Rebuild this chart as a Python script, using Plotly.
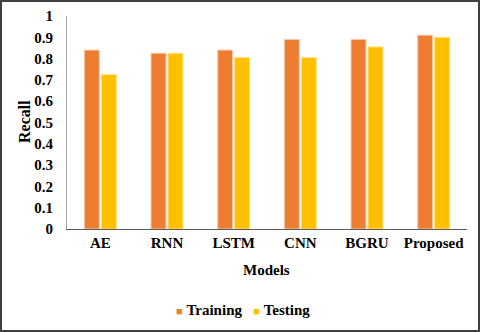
import plotly.graph_objs as go

models = ['AE', 'RNN', 'LSTM', 'CNN', 'BGRU', 'Proposed']
training = [0.84, 0.825, 0.84, 0.89, 0.89, 0.91]
testing = [0.725, 0.825, 0.805, 0.805, 0.855, 0.90]

FONT = 'Liberation Serif'
ORANGE, YELLOW = '#ED7D31', '#FFC000'

W, H = 480, 332
L, R, T, B = 67, 13, 16, 103
pw, ph = W - L - R, H - T - B


def px_to_paper(x, y):
    return (x - L) / pw, (H - B - y) / ph


traces = [
    go.Bar(x=models, y=training, name='Training',
           marker=dict(color=ORANGE, line=dict(color='#F8C9A8', width=1))),
    go.Bar(x=models, y=testing, name='Testing',
           marker=dict(color=YELLOW, line=dict(color='#FFE28A', width=1))),
]

x0, y1 = px_to_paper(1, 1)
x1, y0 = px_to_paper(479, 331)
lx, ly = px_to_paper(243, 310)
tx, ty = px_to_paper(266, 270)
rx, ry = px_to_paper(25, 122)

legend_text = ('<span style="color:%s;font-size:11px">■</span> <b>Training</b>'
               '   <span style="color:%s;font-size:11px">■</span> <b>Testing</b>') % (ORANGE, YELLOW)

layout = go.Layout(
    width=W, height=H, margin=dict(l=L, r=R, t=T, b=B, autoexpand=False),
    paper_bgcolor='white', plot_bgcolor='white',
    barmode='group', bargap=0.49, bargroupgap=0.12,
    font=dict(family=FONT, color='black'),
    showlegend=False,
    xaxis=dict(tickfont=dict(size=15, family=FONT), showline=True, linecolor='#595959',
               linewidth=1, ticks='', showgrid=False, automargin=False,
               tickvals=models, ticktext=['<b>%s</b>' % m for m in models]),
    yaxis=dict(range=[0, 1], tickfont=dict(size=15, family=FONT),
               tickvals=[i / 10 for i in range(11)],
               ticktext=['<b>%g</b>' % (i / 10) for i in range(11)],
               showline=True, linecolor='#a6a6a6', linewidth=1, showgrid=False,
               ticks='', zeroline=False, ticklabelstandoff=10, automargin=False),
    annotations=[
        dict(text='<b>Models</b>', x=tx, y=ty, xref='paper', yref='paper', showarrow=False,
             font=dict(size=15, family=FONT), xanchor='center', yanchor='middle'),
        dict(text='<b>Recall</b>', x=rx, y=ry, xref='paper', yref='paper', showarrow=False,
             font=dict(size=16, family=FONT), xanchor='center', yanchor='middle', textangle=-90),
        dict(text=legend_text, x=lx, y=ly, xref='paper', yref='paper', showarrow=False,
             font=dict(size=15, family=FONT), xanchor='center', yanchor='middle'),
    ],
    shapes=[dict(type='rect', xref='paper', yref='paper', x0=x0, x1=x1, y0=y0, y1=y1,
                 line=dict(color='#404040', width=2))],
)

fig = go.Figure(data=traces, layout=layout)
fig.write_html('out.html', config=dict(displayModeBar=False),
               post_script="document.body.style.margin='0';")
